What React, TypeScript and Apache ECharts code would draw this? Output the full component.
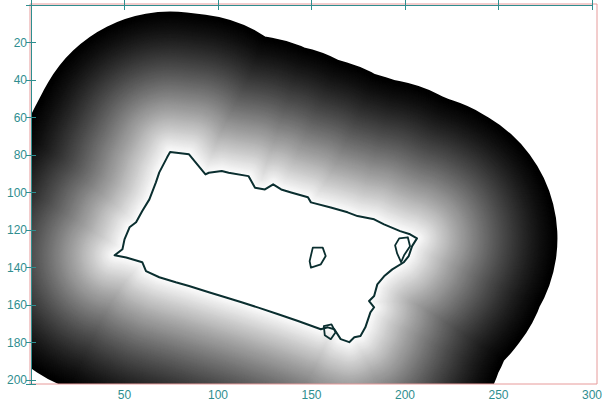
import React, { useEffect, useRef } from "react";
import * as echarts from "echarts";

// Object outline (data coordinates: x = column, y = row, rows grow downward)
const OUTLINE_X = [
  74.4, 84.5, 93.3, 95.1, 102.0, 105.7, 116.3, 119.8, 125.1, 129.5, 133.8, 139.1, 148.1, 149.7,
  160.3, 169.3, 174.6, 183.5, 188.8, 197.4, 202.7, 206.4, 203.8, 202.0, 199.4, 193.2, 188.8,
  185.2, 183.5, 180.8, 183.5, 181.5, 178.8, 176.2, 172.9, 170.2, 165.6, 162.2, 158.7, 155.0,
  142.8, 132.2, 121.6, 112.6, 103.9, 95.1, 84.5, 77.4, 68.6, 61.5, 59.5, 50.9, 44.7, 48.9,
  50.0, 52.7, 56.2, 59.5, 63.3, 66.8, 68.6, 72.8,
];
const OUTLINE_Y = [
  78.4, 79.6, 90.3, 89.4, 88.5, 89.4, 91.2, 97.4, 98.3, 95.6, 98.3, 99.9, 102.5, 105.2,
  107.9, 110.5, 112.5, 114.2, 116.9, 120.5, 122.2, 124.4, 128.5, 133.8, 137.1, 140.9, 144.6,
  148.9, 155.1, 157.8, 161.1, 163.8, 171.8, 176.4, 177.1, 179.7, 178.1, 172.8, 171.8, 172.8,
  168.4, 164.8, 161.3, 158.4, 155.8, 153.1, 149.8, 147.8, 145.1, 141.8, 137.1, 134.6, 133.4, 130.2,
  124.9, 118.5, 115.8, 109.8, 103.6, 94.5, 89.2, 81.2,
];
// small inner loops
const ISLAND_X = [150.7, 156.0, 157.6, 155.0, 149.7, 149.0];
const ISLAND_Y = [129.3, 129.3, 133.8, 138.2, 140.0, 136.5];
const LOOP_R_X = [196.9, 201.5, 202.7, 199.5, 197.9, 195.8, 194.7];
const LOOP_R_Y = [124.4, 123.8, 128.6, 133.4, 137.1, 132.4, 128.1];
const LOOP_B_X = [156.6, 160.7, 162.9, 160.3, 157.1];
const LOOP_B_Y = [171.2, 170.2, 174.4, 178.1, 176.0];

// distance-map range (data units) and grey response
const MAX_DIST = 75;
const DIST_STEP = 0.5;
const GAMMA = 1.3;

const X_TICKS = [50, 100, 150, 200, 250, 300];
const Y_TICKS = [20, 40, 60, 80, 100, 120, 140, 160, 180, 200];

const TEAL = "#2f8e8f";
const PINK = "#e79a9a";
const OUTLINE = "#0a2e2f";

export default function App() {
  const ref = useRef<HTMLDivElement>(null);
  useEffect(() => {
    if (!ref.current) return;
    const chart = echarts.init(ref.current, undefined, { renderer: "svg" });
    const toPts = (xs: number[], ys: number[], api: any) =>
      xs.map((x, i) => api.coord([x, ys[i]]));

    const renderItem = (params: any, api: any) => {
      const pts = toPts(OUTLINE_X, OUTLINE_Y, api);
      const s = api.size([1, 1]);
      const ppu = (s[0] + s[1]) / 2;
      const children: any[] = [];
      for (let d = MAX_DIST; d > 0; d -= DIST_STEP) {
        const v = Math.round(255 * Math.pow(1 - d / MAX_DIST, GAMMA));
        const c = `rgb(${v},${v},${v})`;
        children.push({
          type: "polygon",
          shape: { points: pts },
          style: { fill: c, stroke: c, lineWidth: 2 * d * ppu, lineJoin: "round" },
        });
      }
      children.push({
        type: "polygon",
        shape: { points: pts },
        style: { fill: "#ffffff", stroke: OUTLINE, lineWidth: 2, lineJoin: "round" },
      });
      [
        [ISLAND_X, ISLAND_Y],
        [LOOP_R_X, LOOP_R_Y],
        [LOOP_B_X, LOOP_B_Y],
      ].forEach(([xs, ys]) => {
        children.push({
          type: "polygon",
          shape: { points: toPts(xs, ys, api) },
          style: { fill: "none", stroke: OUTLINE, lineWidth: 1.8, lineJoin: "round" },
        });
      });
      const cs = params.coordSys;
      return {
        type: "group",
        clipPath: { type: "rect", shape: { x: cs.x, y: cs.y, width: cs.width, height: cs.height } },
        children,
      };
    };

    const axisCommon = {
      type: "value" as const,
      z: 10,
      axisLine: { show: true, lineStyle: { color: TEAL, width: 1 } },
      axisTick: { show: true, inside: true, length: 5, lineStyle: { color: TEAL } },
      splitLine: { show: false },
    };
    const xFmt = (v: number) => (X_TICKS.includes(v) ? String(v) : "");
    const yFmt = (v: number) => (Y_TICKS.includes(v) ? String(v) : "");

    chart.setOption({
      animation: false,
      backgroundColor: "#ffffff",
      grid: { left: 31, right: 8, top: 5, bottom: 24, containLabel: false },
      xAxis: [
        {
          ...axisCommon,
          position: "bottom",
          min: 0,
          max: 300,
          interval: 50,
          axisLabel: {
            color: TEAL,
            fontSize: 12,
            fontFamily: "Liberation Sans, Arial, sans-serif",
            margin: 5,
            formatter: xFmt,
          },
        },
        {
          ...axisCommon,
          position: "top",
          min: 0,
          max: 300,
          interval: 50,
          axisLabel: { show: false },
        },
      ],
      yAxis: [
        {
          ...axisCommon,
          position: "left",
          inverse: true,
          min: 0,
          max: 202,
          interval: 20,
          axisLabel: {
            color: TEAL,
            fontSize: 12,
            fontFamily: "Liberation Sans, Arial, sans-serif",
            margin: 4,
            formatter: yFmt,
          },
        },
        {
          ...axisCommon,
          position: "right",
          inverse: true,
          min: 0,
          max: 202,
          interval: 20,
          axisLabel: { show: false },
        },
      ],
      graphic: [
        {
          type: "rect",
          z: 9,
          shape: { x: 30, y: 4, width: 567, height: 380 },
          style: { fill: "none", stroke: PINK, lineWidth: 1 },
        },
      ],
      series: [
        {
          type: "custom",
          coordinateSystem: "cartesian2d",
          data: [[0, 0]],
          renderItem,
          silent: true,
        },
      ],
    });
    return () => chart.dispose();
  }, []);
  return (
    <div
      ref={ref}
      style={{ position: "fixed", left: 0, top: 0, width: 605, height: 408, background: "#fff" }}
    />
  );
}
